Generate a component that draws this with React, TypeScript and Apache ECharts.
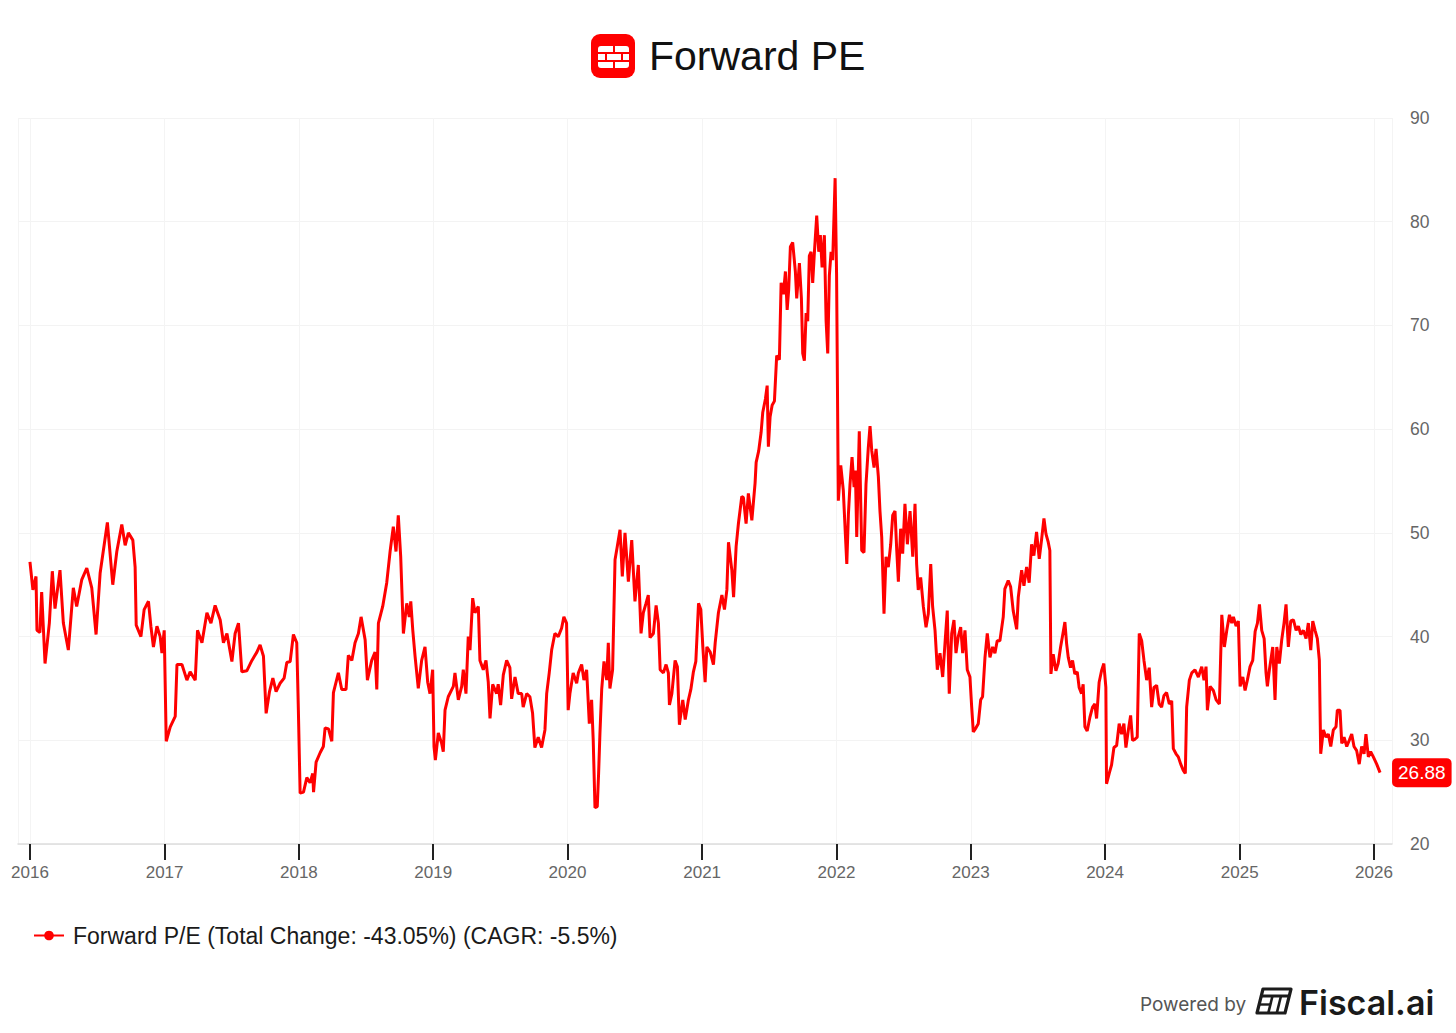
import React, { useEffect, useRef } from "react";
import * as echarts from "echarts";

// Forward P/E readings: [decimal year, value]
const pe2016: [number, number][] = [
  [2016.0, 47.2], [2016.022, 44.5], [2016.045, 45.8], [2016.052, 40.6], [2016.074, 40.4], [2016.087, 44.3],
  [2016.112, 37.4], [2016.144, 41.3], [2016.166, 46.3], [2016.186, 42.7], [2016.223, 46.4], [2016.248, 41.3],
  [2016.285, 38.7], [2016.322, 44.7], [2016.347, 42.9], [2016.385, 45.5], [2016.422, 46.6], [2016.459, 44.7],
  [2016.491, 40.2], [2016.521, 46.1], [2016.575, 51.0], [2016.615, 45.0], [2016.645, 48.2], [2016.682, 50.8],
  [2016.707, 48.8], [2016.731, 50.0], [2016.764, 49.3], [2016.781, 46.7], [2016.789, 41.1], [2016.824, 40.0],
  [2016.848, 42.6], [2016.88, 43.4], [2016.898, 41.0], [2016.917, 39.0], [2016.943, 41.0], [2016.967, 40.0],
  [2016.98, 38.4], [2016.997, 40.6],
];
const pe2017: [number, number][] = [
  [2017.012, 29.9], [2017.042, 31.3], [2017.079, 32.3], [2017.092, 37.3], [2017.129, 37.3], [2017.166, 35.8],
  [2017.19, 36.6], [2017.228, 35.8], [2017.245, 40.6], [2017.278, 39.4], [2017.315, 42.3], [2017.345, 41.3],
  [2017.376, 43.0], [2017.414, 41.6], [2017.438, 39.4], [2017.464, 40.3], [2017.501, 37.6], [2017.525, 40.3],
  [2017.55, 41.3], [2017.575, 36.6], [2017.612, 36.7], [2017.65, 37.7], [2017.687, 38.5], [2017.711, 39.2],
  [2017.736, 38.1], [2017.756, 32.6], [2017.781, 34.7], [2017.806, 36.0], [2017.83, 34.7], [2017.86, 35.5],
  [2017.89, 36.0], [2017.91, 37.5], [2017.935, 37.6], [2017.959, 40.2], [2017.984, 39.4], [2017.996, 32.9],
];
const pe2018: [number, number][] = [
  [2018.009, 24.9], [2018.034, 25.0], [2018.059, 26.4], [2018.083, 25.9], [2018.103, 26.8], [2018.109, 25.0],
  [2018.128, 27.9], [2018.158, 28.8], [2018.182, 29.4], [2018.195, 31.2], [2018.22, 31.1], [2018.245, 29.9],
  [2018.257, 34.6], [2018.294, 36.5], [2018.319, 34.9], [2018.351, 34.9], [2018.368, 38.2], [2018.394, 37.7],
  [2018.418, 39.4], [2018.443, 40.3], [2018.463, 41.9], [2018.493, 39.7], [2018.51, 35.8], [2018.542, 37.7],
  [2018.567, 38.5], [2018.58, 34.9], [2018.592, 41.3], [2018.624, 42.9], [2018.654, 45.2], [2018.679, 48.2],
  [2018.703, 50.6], [2018.723, 48.2], [2018.74, 51.7], [2018.758, 47.7], [2018.778, 40.3], [2018.803, 43.2],
  [2018.822, 41.9], [2018.833, 43.4], [2018.848, 40.6], [2018.865, 38.1], [2018.889, 35.0], [2018.914, 37.7],
  [2018.939, 39.0], [2018.959, 35.6], [2018.976, 34.5], [2018.996, 36.8],
];
const pe2019: [number, number][] = [
  [2019.006, 29.4], [2019.016, 28.1], [2019.038, 30.7], [2019.063, 29.7], [2019.075, 28.9], [2019.088, 32.9],
  [2019.112, 34.2], [2019.15, 35.2], [2019.162, 36.5], [2019.187, 33.9], [2019.212, 35.2], [2019.224, 36.8],
  [2019.244, 34.5], [2019.261, 40.0], [2019.274, 38.7], [2019.294, 43.7], [2019.311, 42.3], [2019.336, 42.9],
  [2019.348, 37.7], [2019.373, 36.8], [2019.393, 37.7], [2019.41, 35.6], [2019.423, 32.1], [2019.443, 35.4],
  [2019.472, 34.5], [2019.484, 35.4], [2019.502, 33.4], [2019.522, 36.3], [2019.547, 37.7], [2019.571, 37.0],
  [2019.584, 34.0], [2019.609, 36.1], [2019.633, 34.5], [2019.659, 34.5], [2019.67, 33.2], [2019.696, 34.5],
  [2019.72, 34.2], [2019.74, 32.6], [2019.757, 29.3], [2019.782, 30.3], [2019.807, 29.3], [2019.832, 31.0],
  [2019.845, 34.5], [2019.864, 36.5], [2019.882, 38.7], [2019.906, 40.3], [2019.931, 40.0], [2019.956, 40.8],
  [2019.973, 41.9], [2019.993, 41.3],
];
const pe2020: [number, number][] = [
  [2020.005, 32.9], [2020.018, 34.5], [2020.042, 36.5], [2020.068, 35.5], [2020.081, 36.5], [2020.105, 37.3],
  [2020.122, 35.8], [2020.142, 36.8], [2020.162, 31.6], [2020.179, 33.9], [2020.191, 30.0], [2020.204, 23.5],
  [2020.221, 23.6], [2020.231, 26.8], [2020.241, 30.7], [2020.254, 34.9], [2020.271, 37.6], [2020.291, 35.8],
  [2020.303, 39.4], [2020.315, 35.0], [2020.335, 36.8], [2020.353, 47.4], [2020.37, 48.7], [2020.39, 50.3],
  [2020.407, 45.8], [2020.427, 50.0], [2020.452, 45.3], [2020.477, 49.3], [2020.501, 43.4], [2020.526, 46.9],
  [2020.546, 40.3], [2020.563, 42.3], [2020.583, 43.2], [2020.6, 44.0], [2020.613, 39.9], [2020.638, 40.3],
  [2020.658, 43.0], [2020.675, 41.3], [2020.688, 36.8], [2020.712, 36.5], [2020.732, 37.3], [2020.749, 36.5],
  [2020.757, 33.4], [2020.775, 34.5], [2020.799, 37.7], [2020.816, 37.1], [2020.831, 31.5], [2020.856, 33.9],
  [2020.874, 32.0], [2020.898, 33.9], [2020.916, 34.9], [2020.935, 36.6], [2020.953, 37.6], [2020.973, 43.2],
  [2020.99, 42.6],
];
const pe2021: [number, number][] = [
  [2021.005, 39.0], [2021.022, 35.6], [2021.035, 39.0], [2021.06, 38.5], [2021.084, 37.3], [2021.097, 39.4],
  [2021.121, 42.3], [2021.147, 44.0], [2021.166, 42.6], [2021.184, 44.5], [2021.196, 49.1], [2021.221, 46.4],
  [2021.234, 43.8], [2021.253, 48.7], [2021.27, 50.9], [2021.295, 53.5], [2021.307, 53.4], [2021.327, 50.9],
  [2021.344, 53.8], [2021.37, 51.2], [2021.394, 54.8], [2021.402, 56.8], [2021.421, 57.9], [2021.439, 59.7],
  [2021.451, 61.6], [2021.471, 62.9], [2021.484, 64.2], [2021.493, 58.3], [2021.506, 61.2], [2021.521, 62.3],
  [2021.538, 62.7], [2021.555, 67.1], [2021.575, 66.7], [2021.588, 74.1], [2021.605, 73.0], [2021.62, 75.2],
  [2021.633, 71.5], [2021.644, 73.4], [2021.657, 77.6], [2021.674, 78.0], [2021.694, 75.2], [2021.704, 72.6],
  [2021.724, 76.0], [2021.739, 72.6], [2021.749, 67.3], [2021.761, 66.6], [2021.774, 71.2], [2021.786, 70.4],
  [2021.798, 76.7], [2021.811, 77.1], [2021.823, 74.1], [2021.836, 77.1], [2021.853, 80.6], [2021.868, 77.1],
  [2021.88, 78.7], [2021.893, 75.6], [2021.91, 78.7], [2021.923, 70.4], [2021.935, 67.3], [2021.947, 74.8],
  [2021.96, 77.1], [2021.972, 76.3], [2021.99, 84.2],
];
const pe2022: [number, number][] = [
  [2022.001, 74.8], [2022.014, 53.1], [2022.032, 56.5], [2022.051, 54.1], [2022.064, 50.5], [2022.077, 47.0],
  [2022.089, 51.8], [2022.101, 54.7], [2022.116, 57.3], [2022.131, 54.4], [2022.141, 56.0], [2022.151, 49.6],
  [2022.17, 59.8], [2022.188, 48.3], [2022.205, 48.1], [2022.22, 54.7], [2022.237, 58.2], [2022.25, 60.3],
  [2022.263, 57.9], [2022.28, 56.3], [2022.295, 58.1], [2022.312, 55.4], [2022.324, 52.1], [2022.337, 49.6],
  [2022.354, 42.2], [2022.369, 47.7], [2022.386, 46.7], [2022.404, 48.9], [2022.419, 51.7], [2022.436, 52.1],
  [2022.449, 48.3], [2022.461, 45.3], [2022.478, 50.4], [2022.493, 48.0], [2022.51, 52.8], [2022.528, 48.9],
  [2022.548, 52.1], [2022.568, 47.7], [2022.585, 52.8], [2022.597, 47.0], [2022.609, 44.5], [2022.627, 45.7],
  [2022.647, 42.9], [2022.667, 40.9], [2022.684, 42.2], [2022.702, 47.0], [2022.716, 42.9], [2022.734, 40.6],
  [2022.751, 36.8], [2022.771, 38.4], [2022.791, 36.1], [2022.808, 39.3], [2022.825, 42.5], [2022.84, 34.5],
  [2022.858, 40.3], [2022.875, 41.6], [2022.89, 38.4], [2022.907, 40.0], [2022.925, 40.9], [2022.94, 38.4],
  [2022.957, 40.6], [2022.974, 36.8], [2022.994, 36.1],
];
const pe2023: [number, number][] = [
  [2023.007, 33.2], [2023.019, 30.8], [2023.039, 31.2], [2023.056, 31.6], [2023.074, 33.9], [2023.088, 34.2],
  [2023.106, 38.0], [2023.123, 40.3], [2023.143, 38.0], [2023.163, 39.0], [2023.18, 38.4], [2023.197, 39.6],
  [2023.217, 39.6], [2023.242, 41.9], [2023.254, 44.6], [2023.279, 45.4], [2023.297, 44.8], [2023.316, 42.5],
  [2023.342, 40.7], [2023.354, 43.8], [2023.379, 46.4], [2023.396, 44.9], [2023.416, 46.7], [2023.435, 45.2],
  [2023.453, 48.9], [2023.47, 47.8], [2023.49, 50.1], [2023.51, 47.5], [2023.527, 49.3], [2023.545, 51.4],
  [2023.56, 49.9], [2023.577, 49.1], [2023.589, 48.3], [2023.597, 36.4], [2023.614, 38.3], [2023.634, 36.7],
  [2023.651, 37.4], [2023.669, 39.0], [2023.684, 40.1], [2023.701, 41.4], [2023.714, 39.3], [2023.726, 38.0],
  [2023.743, 37.0], [2023.758, 37.7], [2023.775, 36.4], [2023.793, 36.6], [2023.807, 35.1], [2023.825, 34.5],
  [2023.837, 35.4], [2023.85, 31.3], [2023.867, 30.9], [2023.887, 32.2], [2023.907, 33.2], [2023.924, 33.5],
  [2023.937, 32.1], [2023.956, 35.6], [2023.974, 36.7], [2023.991, 37.4],
];
const pe2024: [number, number][] = [
  [2024.006, 35.1], [2024.011, 25.8], [2024.031, 26.8], [2024.048, 27.6], [2024.066, 29.3], [2024.086, 29.5],
  [2024.105, 31.6], [2024.123, 30.6], [2024.14, 31.6], [2024.155, 29.3], [2024.172, 30.9], [2024.19, 32.4],
  [2024.204, 30.0], [2024.222, 30.1], [2024.239, 30.3], [2024.254, 40.3], [2024.272, 39.6], [2024.289, 37.7],
  [2024.309, 35.8], [2024.328, 37.0], [2024.346, 33.2], [2024.363, 35.1], [2024.383, 35.3], [2024.402, 33.5],
  [2024.42, 33.2], [2024.437, 34.3], [2024.457, 34.6], [2024.477, 33.5], [2024.495, 33.8], [2024.507, 29.2],
  [2024.527, 28.7], [2024.544, 28.4], [2024.562, 27.7], [2024.581, 27.1], [2024.596, 26.8], [2024.606, 33.2],
  [2024.626, 35.8], [2024.644, 36.5], [2024.668, 36.8], [2024.693, 36.1], [2024.718, 37.1], [2024.735, 35.8],
  [2024.75, 37.1], [2024.76, 32.9], [2024.78, 35.2], [2024.804, 34.8], [2024.825, 33.9], [2024.849, 33.5],
  [2024.867, 42.1], [2024.886, 39.0], [2024.904, 40.6], [2024.924, 42.1], [2024.941, 41.3], [2024.953, 41.9],
  [2024.973, 41.0], [2024.99, 41.5],
];
const pe2025: [number, number][] = [
  [2025.003, 35.2], [2025.023, 36.1], [2025.04, 34.8], [2025.057, 35.8], [2025.077, 37.1], [2025.097, 37.7],
  [2025.115, 40.5], [2025.132, 41.3], [2025.147, 43.1], [2025.164, 40.6], [2025.182, 39.8], [2025.196, 36.5],
  [2025.206, 35.2], [2025.221, 36.8], [2025.246, 39.0], [2025.263, 33.9], [2025.276, 39.0], [2025.295, 37.4],
  [2025.313, 39.7], [2025.33, 41.3], [2025.345, 43.1], [2025.362, 39.0], [2025.38, 41.5], [2025.4, 41.6],
  [2025.42, 40.6], [2025.437, 41.0], [2025.455, 40.2], [2025.474, 40.6], [2025.494, 39.8], [2025.511, 41.3],
  [2025.529, 38.7], [2025.544, 41.5], [2025.561, 40.6], [2025.578, 39.8], [2025.593, 37.7], [2025.603, 28.7],
  [2025.623, 31.0], [2025.643, 30.3], [2025.66, 30.6], [2025.678, 29.4], [2025.697, 31.0], [2025.717, 31.3],
  [2025.727, 32.9], [2025.747, 32.9], [2025.76, 29.7], [2025.777, 30.3], [2025.797, 29.4], [2025.816, 30.0],
  [2025.834, 30.6], [2025.851, 29.4], [2025.871, 29.0], [2025.89, 27.7], [2025.908, 29.4], [2025.926, 28.7],
  [2025.94, 30.6], [2025.958, 28.4], [2025.975, 28.9], [2025.995, 28.4],
];
const pe2026: [number, number][] = [
  [2026.02, 27.7], [2026.045, 26.88],
];

const chartTitle = "Forward PE";
const seriesName = "Forward P/E (Total Change: -43.05%) (CAGR: -5.5%)";
const xRangeYears = [2015.911, 2026.134];
const yMin = 20;
const yMax = 90;
const yStep = 10;

const RED = "#ff0000";
const FONT = "'Liberation Sans', Arial, Helvetica, sans-serif";
const BRAND_FONT = "Inter, 'Noto Sans', sans-serif";

function yearToTs(y: number): number {
  const yr = Math.floor(y);
  const start = Date.UTC(yr, 0, 1);
  const end = Date.UTC(yr + 1, 0, 1);
  return start + (y - yr) * (end - start);
}

export default function App() {
  const ref = useRef<HTMLDivElement>(null);

  useEffect(() => {
    if (!ref.current) return;
    const chart = echarts.init(ref.current, null, { renderer: "svg" });
    const all = [...pe2016, ...pe2017, ...pe2018, ...pe2019, ...pe2020, ...pe2021, ...pe2022, ...pe2023, ...pe2024, ...pe2025, ...pe2026];
    const data = all.map(([y, v]) => [yearToTs(y), v]);
    const lastVal = all[all.length - 1][1];
    const DAY = 24 * 3600 * 1000;

    chart.setOption({
      animation: false,
      useUTC: true,
      backgroundColor: "#ffffff",
      textStyle: { fontFamily: FONT },
      grid: { left: 18, right: 64, top: 118, bottom: 189, containLabel: false },
      legend: {
        show: true,
        left: 28,
        top: 919,
        itemWidth: 30,
        itemHeight: 12,
        textStyle: { fontSize: 23, color: "#1a1a1a", fontFamily: FONT, padding: [0, 0, 0, 4] },
        data: [seriesName],
      },
      xAxis: {
        type: "time",
        min: yearToTs(xRangeYears[0]),
        max: yearToTs(xRangeYears[1]),
        splitNumber: 10,
        minInterval: 365 * DAY,
        maxInterval: 366 * DAY,
        axisLine: { show: true, lineStyle: { color: "#dddddd", width: 1.5 } },
        axisTick: { show: true, length: 16, lineStyle: { color: "#222222", width: 2 } },
        axisLabel: { formatter: "{yyyy}", color: "#666666", fontSize: 17, margin: 20, fontFamily: FONT },
        splitLine: { show: true, lineStyle: { color: "#f4f4f4", width: 1 } },
      },
      yAxis: {
        type: "value",
        position: "right",
        min: yMin,
        max: yMax,
        interval: yStep,
        axisLine: { show: false },
        axisTick: { show: false },
        axisLabel: { color: "#666666", fontSize: 17.5, margin: 18, fontFamily: FONT },
        splitLine: { show: true, lineStyle: { color: "#f3f3f3", width: 1 } },
      },
      series: [
        {
          name: seriesName,
          type: "line",
          data,
          showSymbol: false,
          symbol: "circle",
          symbolSize: 8,
          lineStyle: { color: RED, width: 3 },
          itemStyle: { color: RED },
          endLabel: {
            show: true,
            formatter: () => lastVal.toFixed(2),
            backgroundColor: RED,
            color: "#ffffff",
            fontSize: 19,
            fontFamily: FONT,
            padding: [5, 6, 5, 6],
            borderRadius: 5,
            distance: 12,
          },
        },
      ],
      graphic: [
        { type: "rect", shape: { x: 591, y: 34, width: 44, height: 44, r: 9 }, style: { fill: RED } },
        { type: "rect", shape: { x: 598, y: 46, width: 15, height: 6, r: [3, 0, 0, 0] }, style: { fill: "#fff" } },
        { type: "rect", shape: { x: 615, y: 46, width: 14, height: 6, r: [0, 3, 0, 0] }, style: { fill: "#fff" } },
        { type: "rect", shape: { x: 598, y: 54, width: 7, height: 6 }, style: { fill: "#fff" } },
        { type: "rect", shape: { x: 607, y: 54, width: 14, height: 6 }, style: { fill: "#fff" } },
        { type: "rect", shape: { x: 623, y: 54, width: 6, height: 6 }, style: { fill: "#fff" } },
        { type: "rect", shape: { x: 598, y: 62, width: 15, height: 6, r: [0, 0, 0, 3] }, style: { fill: "#fff" } },
        { type: "rect", shape: { x: 615, y: 62, width: 14, height: 6, r: [0, 0, 3, 0] }, style: { fill: "#fff" } },
        {
          type: "text",
          x: 649,
          y: 56,
          style: { text: chartTitle, fontSize: 41, fill: "#111111", fontFamily: FONT, verticalAlign: "middle", align: "left" },
        },
        {
          type: "text",
          x: 1140,
          y: 1004,
          style: { text: "Powered by", fontSize: 19, fill: "#555555", fontFamily: BRAND_FONT, verticalAlign: "middle", align: "left" },
        },
        {
          type: "polygon",
          shape: { points: [[1263, 989], [1291, 989], [1285, 1013], [1257, 1013]] },
          style: { fill: "none", stroke: "#1c1c1c", lineWidth: 3.2, lineJoin: "round" },
        },
        { type: "line", shape: { x1: 1261, y1: 996, x2: 1289, y2: 996 }, style: { stroke: "#1c1c1c", lineWidth: 3 } },
        { type: "line", shape: { x1: 1272.5, y1: 996, x2: 1268.3, y2: 1013 }, style: { stroke: "#1c1c1c", lineWidth: 2.6 } },
        { type: "line", shape: { x1: 1281, y1: 996, x2: 1276.8, y2: 1013 }, style: { stroke: "#1c1c1c", lineWidth: 2.6 } },
        { type: "line", shape: { x1: 1259.5, y1: 1004.5, x2: 1270.5, y2: 1004.5 }, style: { stroke: "#1c1c1c", lineWidth: 2.4 } },
        {
          type: "text",
          x: 1299,
          y: 1002,
          style: { text: "Fiscal.ai", fontSize: 34, fontWeight: 600, fill: "#1a1a1a", fontFamily: BRAND_FONT, verticalAlign: "middle", align: "left" },
        },
      ],
    });

    return () => chart.dispose();
  }, []);

  return (
    <div
      ref={ref}
      style={{ position: "fixed", left: 0, top: 0, width: 1456, height: 1033, background: "#ffffff" }}
    />
  );
}
